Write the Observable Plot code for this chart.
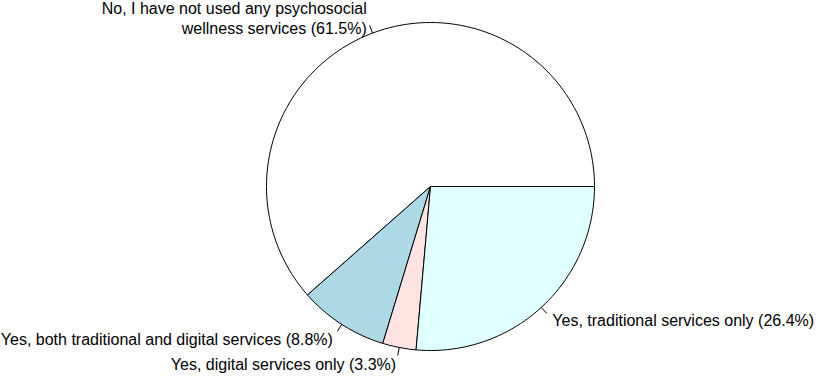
<!DOCTYPE html>
<html>
<head>
<meta charset="utf-8">
<script src="https://cdn.jsdelivr.net/npm/d3@7"></script>
<script src="https://cdn.jsdelivr.net/npm/@observablehq/plot@0.6"></script>
<style>
  html, body { margin: 0; padding: 0; background: white; }
</style>
</head>
<body>
<div id="chart"></div>
<script>
const labels = [
  "No, I have not used any psychosocial\nwellness services (61.5%)",
  "Yes, both traditional and digital services (8.8%)",
  "Yes, digital services only (3.3%)",
  "Yes, traditional services only (26.4%)"
];
const values = [61.5, 8.8, 3.3, 26.4];
const colors = ["white", "lightblue", "mistyrose", "lightcyan"];

const W = 824, H = 382, cx = 430, cy = 186, R = 164;
const total = d3.sum(values);

// Build slices (R base pie: start at 0 rad, counter-clockwise)
const polys = [];
const ticks = [];
const texts = [];
let cum = 0;
values.forEach((v, i) => {
  const f0 = cum / total, f1 = (cum + v) / total;
  cum += v;
  const t0 = 2 * Math.PI * f0, t1 = 2 * Math.PI * f1;
  const n = Math.max(2, Math.floor(200 * (f1 - f0)));
  polys.push({slice: i, x: 0, y: 0, color: colors[i]});
  for (let k = 0; k <= n; k++) {
    const t = t0 + (t1 - t0) * k / n;
    polys.push({slice: i, x: Math.cos(t), y: Math.sin(t), color: colors[i]});
  }
  polys.push({slice: i, x: 0, y: 0, color: colors[i]});
  const tm = (t0 + t1) / 2;
  const c = Math.cos(tm), s = Math.sin(tm);
  ticks.push({x1: c, y1: s, x2: 1.05 * c, y2: 1.05 * s});
  texts.push({x: 1.1 * c, y: 1.1 * s, label: labels[i], right: c > 0});
});

const chart = Plot.plot({
  width: W,
  height: H,
  margin: 0,
  style: {background: "white", fontFamily: "'Liberation Sans', Arial, sans-serif"},
  x: {domain: [-cx / R, (W - cx) / R], axis: null},
  y: {domain: [-(H - cy) / R, cy / R], axis: null},
  color: {type: "identity"},
  marks: [
    Plot.line(polys, {x: "x", y: "y", z: "slice", fill: "color", stroke: "black", strokeWidth: 1, strokeLinejoin: "round"}),
    Plot.link(ticks, {x1: "x1", y1: "y1", x2: "x2", y2: "y2", stroke: "black", strokeWidth: 1}),
    Plot.text(texts.filter(d => d.right), {x: "x", y: "y", text: "label", textAnchor: "start", fontSize: 16, lineHeight: 1.25, fill: "black"}),
    Plot.text(texts.filter(d => !d.right), {x: "x", y: "y", text: "label", textAnchor: "end", fontSize: 16, lineHeight: 1.25, fill: "black"})
  ]
});
document.getElementById("chart").appendChild(chart);
</script>
</body>
</html>
